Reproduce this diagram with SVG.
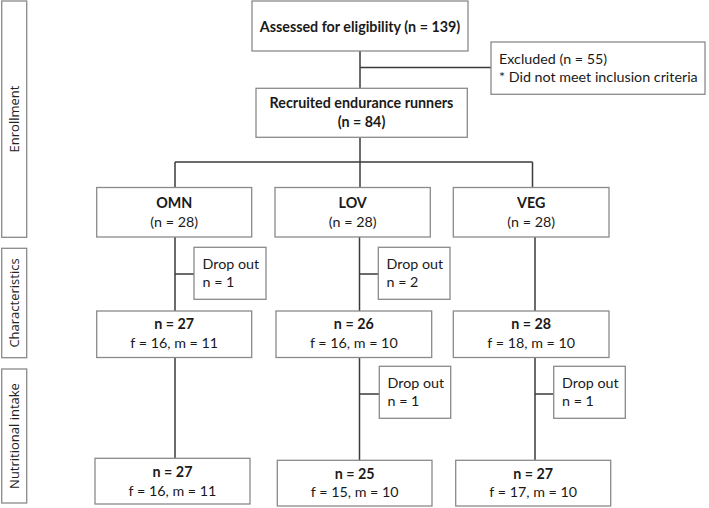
<svg xmlns="http://www.w3.org/2000/svg" width="709" height="508" viewBox="0 0 709 508">
<style>
  .box { fill: #ffffff; stroke: #8a8a8a; stroke-width: 1.3; }
  .bar { fill: #ffffff; stroke: #8a8a8a; stroke-width: 1.3; }
  .ln { fill: none; stroke: #3a3a3a; stroke-width: 1.5; }
  text { font-family: Lato, "Liberation Sans", sans-serif; font-size: 14.3px; fill: #1a1a1a; }
  .b { font-weight: bold; }
  .c { text-anchor: middle; }
  .side { font-family: "Open Sans", "DejaVu Sans", sans-serif; font-size: 13px; text-anchor: middle; fill: #222222; }
</style>
<rect width="709" height="508" fill="#ffffff"/>

<g id="connectors">
  <path class="ln" d="M360 51 V88"/>
  <path class="ln" d="M360 67.5 H491"/>
  <path class="ln" d="M360 137 V187.5"/>
  <path class="ln" d="M175 162 H532.5"/>
  <path class="ln" d="M175 162 V187.5"/>
  <path class="ln" d="M532.5 162 V187.5"/>
  <path class="ln" d="M175 237 V311"/>
  <path class="ln" d="M175 274 H194"/>
  <path class="ln" d="M359.5 237 V311"/>
  <path class="ln" d="M359.5 274 H378"/>
  <path class="ln" d="M535 237 V311"/>
  <path class="ln" d="M175 357.5 V458.3"/>
  <path class="ln" d="M359.5 357.5 V460.3"/>
  <path class="ln" d="M359.5 394 H379"/>
  <path class="ln" d="M535 357.5 V460.3"/>
  <path class="ln" d="M535 394 H554"/>
</g>

<g id="stage-enrollment">
  <rect class="bar" x="1.7" y="1" width="25" height="236.3"/>
  <text class="side" transform="translate(19 119) rotate(-90)">Enrollment</text>
</g>
<g id="stage-characteristics">
  <rect class="bar" x="1.7" y="248.3" width="25" height="109.4"/>
  <text class="side" transform="translate(19 303) rotate(-90)">Characteristics</text>
</g>
<g id="stage-nutritional">
  <rect class="bar" x="1.7" y="369" width="25" height="134"/>
  <text class="side" transform="translate(19 436) rotate(-90)">Nutritional intake</text>
</g>

<g id="assessed">
  <rect class="box" x="252" y="1" width="216" height="50"/>
  <text class="b c" x="360" y="31.5">Assessed for eligibility (n = 139)</text>
</g>
<g id="excluded">
  <rect class="box" x="491" y="42" width="214" height="52.3"/>
  <text x="499" y="64">Excluded (n = 55)</text>
  <text x="499" y="82">* Did not meet inclusion criteria</text>
</g>
<g id="recruited">
  <rect class="box" x="256" y="88.3" width="211.3" height="49"/>
  <text class="b c" x="361.5" y="108.3">Recruited endurance runners</text>
  <text class="b c" x="361.5" y="127">(n = 84)</text>
</g>

<g id="omn">
  <rect class="box" x="96.7" y="187.5" width="155" height="49.5"/>
  <text class="b c" x="174.2" y="208.3">OMN</text>
  <text class="c" x="174.2" y="226.5">(n = 28)</text>
</g>
<g id="lov">
  <rect class="box" x="275" y="187.5" width="155.3" height="49.5"/>
  <text class="b c" x="352.7" y="208.3">LOV</text>
  <text class="c" x="352.7" y="226.5">(n = 28)</text>
</g>
<g id="veg">
  <rect class="box" x="453.3" y="187.5" width="155.7" height="49.5"/>
  <text class="b c" x="531.2" y="208.3">VEG</text>
  <text class="c" x="531.2" y="226.5">(n = 28)</text>
</g>

<g id="omn-dropout">
  <rect class="box" x="194" y="247.3" width="72" height="52"/>
  <text x="202.5" y="269">Drop out</text>
  <text x="202.5" y="287">n = 1</text>
</g>
<g id="lov-dropout">
  <rect class="box" x="378.3" y="247.3" width="71.7" height="52"/>
  <text x="386.5" y="269">Drop out</text>
  <text x="386.5" y="287">n = 2</text>
</g>

<g id="omn-char">
  <rect class="box" x="96.7" y="311" width="155" height="46.5"/>
  <text class="b c" x="174.2" y="328.5">n = 27</text>
  <text class="c" x="174.2" y="347.5">f = 16, m = 11</text>
</g>
<g id="lov-char">
  <rect class="box" x="276" y="311" width="155.7" height="46.5"/>
  <text class="b c" x="353.8" y="328.5">n = 26</text>
  <text class="c" x="353.8" y="347.5">f = 16, m = 10</text>
</g>
<g id="veg-char">
  <rect class="box" x="453.3" y="311" width="155.7" height="46.5"/>
  <text class="b c" x="531.2" y="328.5">n = 28</text>
  <text class="c" x="531.2" y="347.5">f = 18, m = 10</text>
</g>

<g id="lov-dropout2">
  <rect class="box" x="379.3" y="366.3" width="71.4" height="52"/>
  <text x="387.5" y="387.5">Drop out</text>
  <text x="387.5" y="406">n = 1</text>
</g>
<g id="veg-dropout2">
  <rect class="box" x="553.7" y="366.3" width="71.6" height="52"/>
  <text x="562" y="387.5">Drop out</text>
  <text x="562" y="406">n = 1</text>
</g>

<g id="omn-nutr">
  <rect class="box" x="95" y="458.3" width="155" height="45.7"/>
  <text class="b c" x="172.5" y="476.7">n = 27</text>
  <text class="c" x="172.5" y="495.5">f = 16, m = 11</text>
</g>
<g id="lov-nutr">
  <rect class="box" x="277.3" y="460.3" width="154.7" height="45.7"/>
  <text class="b c" x="354.7" y="478.5">n = 25</text>
  <text class="c" x="354.7" y="497">f = 15, m = 10</text>
</g>
<g id="veg-nutr">
  <rect class="box" x="455.7" y="460.3" width="155" height="45.7"/>
  <text class="b c" x="533.2" y="478.5">n = 27</text>
  <text class="c" x="533.2" y="497">f = 17, m = 10</text>
</g>
</svg>
